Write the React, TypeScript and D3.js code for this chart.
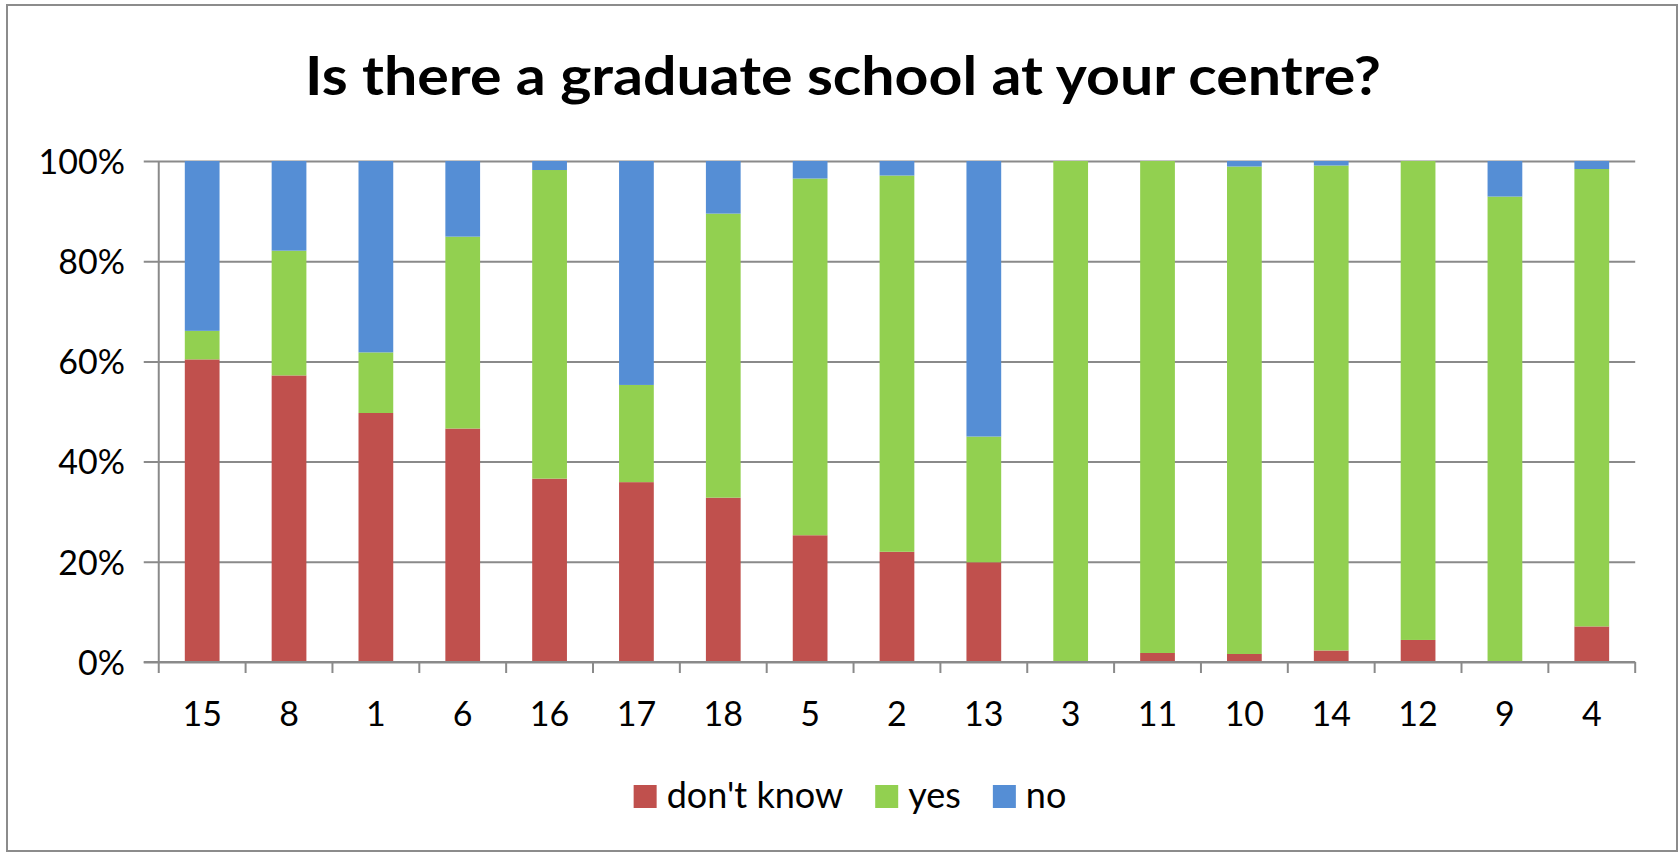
import React, { useEffect, useRef } from 'react';
import * as d3 from 'd3';

const categories = ['15', '8', '1', '6', '16', '17', '18', '5', '2', '13', '3', '11', '10', '14', '12', '9', '4'];
const dontKnow = [60.4, 57.2, 49.7, 46.6, 36.6, 35.9, 32.8, 25.3, 22.0, 19.9, 0, 1.8, 1.6, 2.3, 4.4, 0, 7.1];
const yes = [5.7, 24.9, 12.1, 38.3, 61.6, 19.4, 56.7, 71.2, 75.1, 25.1, 100, 98.2, 97.3, 96.8, 95.6, 92.9, 91.3];
const no = [33.9, 17.9, 38.2, 15.1, 1.8, 44.7, 10.5, 3.5, 2.9, 55.0, 0, 0, 1.1, 0.9, 0, 7.1, 1.6];
const seriesKeys = ['dk', 'yes', 'no'];
const seriesNames = ["don't know", 'yes', 'no'];
const seriesColors = ['#C0504D', '#92D050', '#558ED5'];
const yTicks = [0, 0.2, 0.4, 0.6, 0.8, 1];
const title = 'Is there a graduate school at your centre?';

const W = 1679;
const H = 852;
const FONT = 'Lato, "Open Sans", sans-serif';

export default function App() {
  const ref = useRef<SVGSVGElement>(null);

  useEffect(() => {
    const svg = d3.select(ref.current);
    svg.selectAll('*').remove();

    const left = 158.75, right = 1635.2, top = 161, bottom = 662;
    const grid = '#8A8A8A';

    svg.append('rect')
      .attr('x', 7).attr('y', 5).attr('width', 1670).attr('height', 846)
      .attr('fill', '#fff').attr('stroke', '#8C8C8C').attr('stroke-width', 2);

    svg.append('text')
      .attr('x', 843).attr('y', 95)
      .attr('text-anchor', 'middle')
      .attr('font-family', FONT).attr('font-weight', 700).attr('font-size', 54)
      .attr('textLength', 1076).attr('lengthAdjust', 'spacingAndGlyphs')
      .attr('fill', '#000')
      .text(title);

    const x = d3.scaleBand<string>().domain(categories).range([left, right]).paddingInner(0.6).paddingOuter(0.3);
    const y = d3.scaleLinear().domain([0, 1]).range([bottom, top]);

    const rows = categories.map((c, i) => ({ cat: c, dk: dontKnow[i], yes: yes[i], no: no[i] }));
    const stacked = d3.stack<any>().keys(seriesKeys).offset(d3.stackOffsetExpand)(rows);

    const yAxis = d3.axisLeft(y).tickValues(yTicks).tickSize(-(right - left)).tickSizeOuter(0)
      .tickFormat((d: any) => `${Math.round(d * 100)}%`).tickPadding(0);
    const gy = svg.append('g').attr('transform', `translate(${left},0)`).call(yAxis as any);
    gy.select('.domain').remove();
    gy.selectAll('.tick line').attr('stroke', grid).attr('stroke-width', 2)
      .attr('x1', -15).attr('x2', right - left);
    gy.selectAll('.tick text').attr('x', 125 - left).attr('dy', '0.36em')
      .attr('font-family', FONT).attr('font-size', 34).attr('fill', '#000');

    svg.append('g').selectAll('g').data(stacked).join('g')
      .attr('fill', (_d: any, i: number) => seriesColors[i])
      .selectAll('rect').data((d: any) => d).join('rect')
      .attr('x', (d: any) => x(d.data.cat)!)
      .attr('width', x.bandwidth())
      .attr('y', (d: any) => y(d[1]))
      .attr('height', (d: any) => Math.max(0, y(d[0]) - y(d[1])));

    svg.append('line').attr('x1', left).attr('x2', left).attr('y1', top).attr('y2', bottom)
      .attr('stroke', grid).attr('stroke-width', 2);

    const step = x.step();
    const tickXs = d3.range(categories.length + 1).map(i => left + i * step);
    svg.append('line').attr('x1', left - 15).attr('x2', right).attr('y1', bottom).attr('y2', bottom)
      .attr('stroke', grid).attr('stroke-width', 2);
    svg.append('g').selectAll('line').data(tickXs).join('line')
      .attr('x1', d => d).attr('x2', d => d).attr('y1', bottom).attr('y2', bottom + 11)
      .attr('stroke', grid).attr('stroke-width', 2);
    svg.append('g').selectAll('text').data(categories).join('text')
      .attr('x', d => x(d)! + x.bandwidth() / 2).attr('y', 726)
      .attr('text-anchor', 'middle')
      .attr('font-family', FONT).attr('font-size', 34).attr('fill', '#000')
      .text(d => d);

    const lg = svg.append('g');
    const sq = 23, gapIn = 10, gapOut = 32;
    const items = seriesNames.map((name, i) => {
      const g = lg.append('g');
      g.append('rect').attr('width', sq).attr('height', sq).attr('y', 785).attr('fill', seriesColors[i]);
      const t = g.append('text').attr('x', sq + gapIn).attr('y', 808)
        .attr('font-family', FONT).attr('font-size', 36).attr('fill', '#000').text(name);
      const w = (t.node() as SVGTextElement).getComputedTextLength();
      return { g, w: sq + gapIn + w };
    });
    const total = d3.sum(items, d => d.w) + gapOut * (items.length - 1);
    let cx = 850 - total / 2;
    items.forEach(it => {
      it.g.attr('transform', `translate(${cx},0)`);
      cx += it.w + gapOut;
    });
  }, []);

  return (
    <svg ref={ref} width={W} height={H}
      style={{ position: 'absolute', left: 0, top: 0, background: '#fff' }} />
  );
}
